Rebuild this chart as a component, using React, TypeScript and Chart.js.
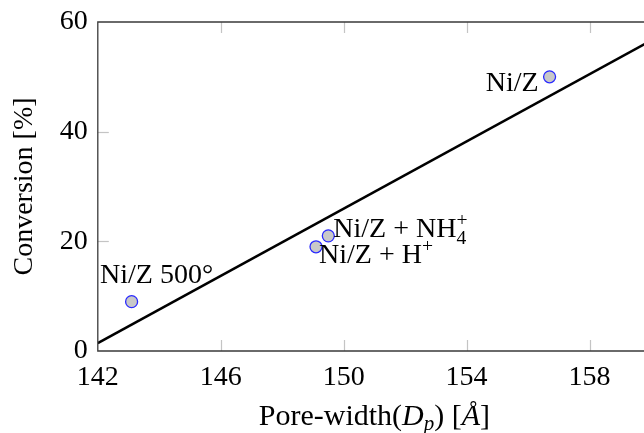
import React, { useEffect, useRef } from "react";
import { Chart, registerables } from "chart.js";

Chart.register(...registerables);

// ---- data ----
const poreWidth = [143.1, 149.1, 149.5, 156.7];
const conversion = [9, 19, 21, 50];
const sampleLabels = ["Ni/Z 500°", "Ni/Z + H+", "Ni/Z + NH4+", "Ni/Z"];
const fitX = [142, 160];
const fitY = [1.45, 56.6];
const xTicks = [142, 146, 150, 154, 158];
const yTicks = [0, 20, 40, 60];
const yTitle = "Conversion [%]";

// ---- style ----
const FAMILY = "'Liberation Serif', 'DejaVu Serif', serif";
const FS = 28;
const LABEL_PLACEMENT = [
  { dx: 25, dy: -19, align: "center" },
  { dx: 3, dy: 16, align: "left" },
  { dx: 5, dy: 1, align: "left" },
  { dx: -11, dy: 14, align: "right" },
];

type Seg = { t: string; size?: number; shift?: number; italic?: boolean; stackWith?: Seg };

function labelSegments(label: string): Seg[] {
  const small = FS * 0.7;
  const m = label.match(/^(.*?)(\d)\+$/);
  if (m && /[A-Za-z]$/.test(m[1])) {
    return [
      { t: m[1] },
      { t: m[2], size: small, shift: 7, stackWith: { t: "+", size: small, shift: -11 } },
    ];
  }
  if (label.endsWith("+")) {
    return [{ t: label.slice(0, -1) }, { t: "+", size: small, shift: -11 }];
  }
  return [{ t: label }];
}

function fontOf(s: Seg) {
  return `${s.italic ? "italic " : ""}${s.size ?? FS}px ${FAMILY}`;
}

function drawSegs(ctx: CanvasRenderingContext2D, segs: Seg[], x: number, y: number, align: string) {
  const widths = segs.map((s) => {
    ctx.font = fontOf(s);
    let w = ctx.measureText(s.t).width;
    if (s.stackWith) {
      ctx.font = fontOf(s.stackWith);
      w = Math.max(w, ctx.measureText(s.stackWith.t).width);
    }
    return w;
  });
  const total = widths.reduce((a, b) => a + b, 0);
  let cx = align === "center" ? x - total / 2 : align === "right" ? x - total : x;
  ctx.textAlign = "left";
  ctx.textBaseline = "alphabetic";
  ctx.fillStyle = "#000";
  segs.forEach((s, i) => {
    ctx.font = fontOf(s);
    ctx.fillText(s.t, cx, y + (s.shift ?? 0));
    if (s.stackWith) {
      ctx.font = fontOf(s.stackWith);
      ctx.fillText(s.stackWith.t, cx, y + (s.stackWith.shift ?? 0));
    }
    cx += widths[i];
  });
}

const framePlugin = {
  id: "frame",
  afterDatasetsDraw(chart: any) {
    const { ctx, chartArea: a, scales } = chart;
    ctx.save();
    ctx.strokeStyle = "#c4c4c4";
    ctx.lineWidth = 1.2;
    const tl = 11;
    xTicks.forEach((v) => {
      const px = Math.round(scales.x.getPixelForValue(v)) + 0.5;
      if (v === xTicks[0]) return;
      ctx.beginPath();
      ctx.moveTo(px, a.bottom);
      ctx.lineTo(px, a.bottom - tl);
      ctx.moveTo(px, a.top);
      ctx.lineTo(px, a.top + tl);
      ctx.stroke();
    });
    yTicks.forEach((v) => {
      if (v === yTicks[0] || v === yTicks[yTicks.length - 1]) return;
      const py = Math.round(scales.y.getPixelForValue(v)) + 0.5;
      ctx.beginPath();
      ctx.moveTo(a.left, py);
      ctx.lineTo(a.left + tl, py);
      ctx.stroke();
    });
    ctx.strokeStyle = "#3a3a3a";
    ctx.lineWidth = 1.3;
    ctx.beginPath();
    ctx.moveTo(a.right, a.top);
    ctx.lineTo(a.left, a.top);
    ctx.lineTo(a.left, a.bottom);
    ctx.lineTo(a.right, a.bottom);
    ctx.stroke();
    ctx.restore();
  },
};

const labelPlugin = {
  id: "labels",
  afterDraw(chart: any) {
    const { ctx, scales } = chart;
    ctx.save();
    sampleLabels.forEach((lab, i) => {
      const px = scales.x.getPixelForValue(poreWidth[i]);
      const py = scales.y.getPixelForValue(conversion[i]);
      const p = LABEL_PLACEMENT[i];
      drawSegs(ctx, labelSegments(lab), px + p.dx, py + p.dy, p.align);
    });
    // x tick labels
    ctx.font = `${FS}px ${FAMILY}`;
    ctx.fillStyle = "#000";
    ctx.textAlign = "center";
    ctx.textBaseline = "alphabetic";
    xTicks.forEach((v) => {
      ctx.fillText(String(v), scales.x.getPixelForValue(v), scales.x.top + 34);
    });
    // x-axis title with math parts
    const xs = scales.x;
    const cx = (xs.left + xs.right) / 2;
    const big = 30;
    const segs: Seg[] = [
      { t: "Pore-width(", size: big },
      { t: "D", italic: true, size: big },
      { t: "p", italic: true, size: big * 0.7, shift: 5 },
      { t: ") [", size: big },
      { t: "Å", italic: true, size: big },
      { t: "]", size: big },
    ];
    drawSegs(ctx, segs, cx, 425, "center");
    ctx.restore();
  },
};

export default function App() {
  const ref = useRef<HTMLCanvasElement>(null);
  useEffect(() => {
    if (!ref.current) return;
    const chart = new Chart(ref.current, {
      type: "scatter",
      data: {
        datasets: [
          {
            type: "line",
            data: fitX.map((x, i) => ({ x, y: fitY[i] })),
            borderColor: "#000",
            borderWidth: 2.6,
            pointRadius: 0,
            fill: false,
            order: 2,
          } as any,
          {
            type: "scatter",
            data: poreWidth.map((x, i) => ({ x, y: conversion[i] })),
            backgroundColor: "#c8c8c8",
            borderColor: "#2a2aff",
            borderWidth: 1.3,
            pointRadius: 6,
            order: 1,
          },
        ],
      },
      options: {
        responsive: false,
        animation: false,
        layout: { padding: { top: 22, right: 9, left: 0, bottom: 0 } },
        plugins: { legend: { display: false }, tooltip: { enabled: false } },
        scales: {
          x: {
            type: "linear",
            min: 142,
            max: 160,
            grid: { display: false, drawTicks: false },
            border: { display: false },
            ticks: { display: false },
            afterBuildTicks: (s: any) => {
              s.ticks = xTicks.map((v) => ({ value: v }));
            },
            afterFit: (s: any) => {
              s.height = 82;
              s.paddingLeft = 0;
              s.paddingRight = 0;
            },
          },
          y: {
            type: "linear",
            min: 0,
            max: 60,
            grid: { display: false, drawTicks: false },
            border: { display: false },
            ticks: {
              color: "#000",
              font: { family: FAMILY, size: FS },
              padding: 10,
              autoSkip: false,
            },
            afterBuildTicks: (s: any) => {
              s.ticks = yTicks.map((v) => ({ value: v }));
            },
            afterFit: (s: any) => {
              s.width = 97.8;
              s.paddingTop = 0;
              s.paddingBottom = 0;
            },
            title: {
              display: true,
              text: yTitle,
              color: "#000",
              font: { family: FAMILY, size: FS },
              padding: { top: 8, bottom: 0 },
            },
          },
        },
      },
      plugins: [framePlugin, labelPlugin],
    });
    return () => chart.destroy();
  }, []);
  return (
    <div style={{ position: "absolute", left: 0, top: 0, width: 644, height: 433, overflow: "hidden", background: "#fff" }}>
      <canvas ref={ref} width={660} height={433} style={{ display: "block" }} />
    </div>
  );
}
